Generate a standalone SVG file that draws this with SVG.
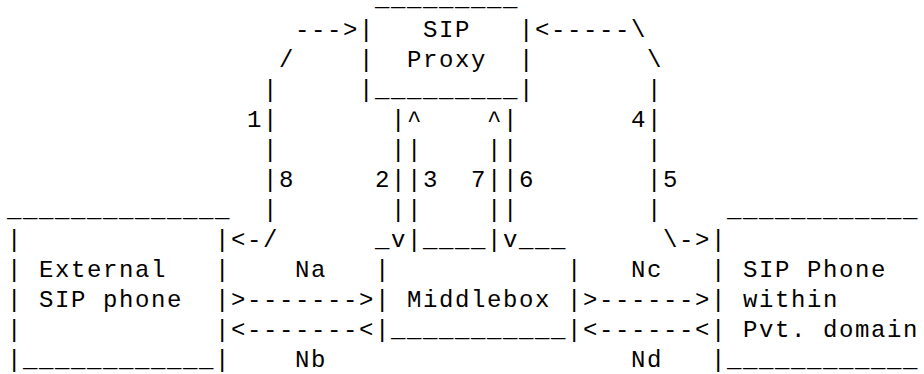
<svg xmlns="http://www.w3.org/2000/svg" width="924" height="374" viewBox="0 0 924 374">
  <style>
    /* character grid: 16px columns starting at x=7, 30px rows with baseline at 7 + 30*row */
    text {
      font-family: "Liberation Mono", "DejaVu Sans Mono", monospace;
      font-size: 24px;
      letter-spacing: 1.6px;
      fill: #000;
      white-space: pre;
    }
  </style>
  <rect width="924" height="374" fill="#fff"/>

  <!-- SIP Proxy -->
  <g id="sip-proxy">
    <text x="375" y="6">_________</text>
    <text x="359" y="37">|</text>
    <text x="423" y="37">SIP</text>
    <text x="519" y="37">|</text>
    <text x="359" y="67">|</text>
    <text x="407" y="67">Proxy</text>
    <text x="519" y="67">|</text>
    <text x="359" y="97">|_________|</text>
  </g>

  <!-- External SIP phone -->
  <g id="external-phone">
    <text x="7" y="217">______________</text>
    <text x="7" y="247">|</text>
    <text x="215" y="247">|</text>
    <text x="7" y="277">|</text>
    <text x="39" y="277">External</text>
    <text x="215" y="277">|</text>
    <text x="7" y="307">|</text>
    <text x="39" y="307">SIP phone</text>
    <text x="215" y="307">|</text>
    <text x="7" y="337">|</text>
    <text x="215" y="337">|</text>
    <text x="7" y="367">|____________|</text>
  </g>

  <!-- Middlebox -->
  <g id="middlebox">
    <text x="375" y="247">_</text>
    <text x="423" y="247">____</text>
    <text x="519" y="247">___</text>
    <text x="375" y="277">|</text>
    <text x="567" y="277">|</text>
    <text x="375" y="307">|</text>
    <text x="407" y="307">Middlebox</text>
    <text x="567" y="307">|</text>
    <text x="375" y="337">|___________|</text>
  </g>

  <!-- SIP Phone within private domain -->
  <g id="private-phone">
    <text x="727" y="217">____________</text>
    <text x="711" y="247">|</text>
    <text x="711" y="277">|</text>
    <text x="743" y="277">SIP Phone</text>
    <text x="711" y="307">|</text>
    <text x="743" y="307">within</text>
    <text x="711" y="337">|</text>
    <text x="743" y="337">Pvt. domain</text>
    <text x="711" y="367">|____________</text>
  </g>

  <!-- signalling paths and media flows -->
  <g id="connectors">
    <!-- path 1 / 8 between external phone and proxy -->
    <text x="295" y="37">---&gt;</text>
    <text x="279" y="67">/</text>
    <text x="263" y="97">|</text>
    <text x="247" y="127">1|</text>
    <text x="263" y="157">|</text>
    <text x="263" y="187">|8</text>
    <text x="263" y="217">|</text>
    <text x="231" y="247">&lt;-/</text>

    <!-- paths 2 / 3 and 7 / 6 between proxy and middlebox -->
    <text x="391" y="127">|^</text>
    <text x="487" y="127">^|</text>
    <text x="391" y="157">||</text>
    <text x="487" y="157">||</text>
    <text x="375" y="187">2||3</text>
    <text x="471" y="187">7||6</text>
    <text x="391" y="217">||</text>
    <text x="487" y="217">||</text>
    <text x="391" y="247">v|</text>
    <text x="487" y="247">|v</text>

    <!-- path 4 / 5 between proxy and private phone -->
    <text x="535" y="37">&lt;-----\</text>
    <text x="647" y="67">\</text>
    <text x="647" y="97">|</text>
    <text x="631" y="127">4|</text>
    <text x="647" y="157">|</text>
    <text x="647" y="187">|5</text>
    <text x="647" y="217">|</text>
    <text x="663" y="247">\-&gt;</text>

    <!-- media flows Na / Nb -->
    <text x="295" y="277">Na</text>
    <text x="231" y="307">&gt;-------&gt;</text>
    <text x="231" y="337">&lt;-------&lt;</text>
    <text x="295" y="367">Nb</text>

    <!-- media flows Nc / Nd -->
    <text x="631" y="277">Nc</text>
    <text x="583" y="307">&gt;------&gt;</text>
    <text x="583" y="337">&lt;------&lt;</text>
    <text x="631" y="367">Nd</text>
  </g>
</svg>
